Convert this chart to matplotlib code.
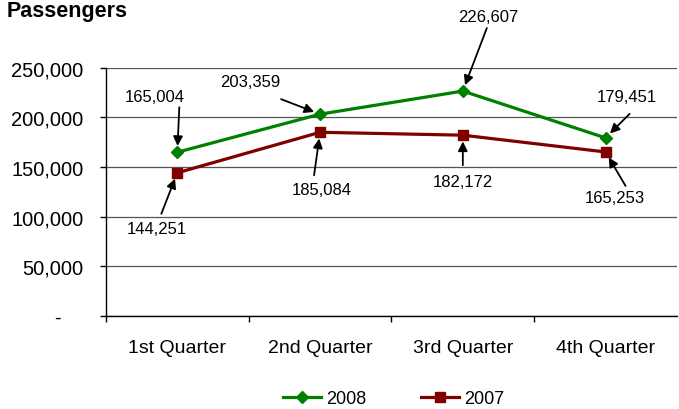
import matplotlib.pyplot as plt
from matplotlib.ticker import FuncFormatter

plt.rcParams['font.family'] = ['Liberation Sans', 'DejaVu Sans']

quarters = ["1st Quarter", "2nd Quarter", "3rd Quarter", "4th Quarter"]
pax_2008 = [165004, 203359, 226607, 179451]
pax_2007 = [144251, 185084, 182172, 165253]

# label and arrow-tail offsets in pixels (dx, dy) from each point
lbl_2008 = [(-23, 56), (-70, 33), (25, 75), (21, 41)]
tail_2008 = [(2, 45), (-39, 15), (24, 63), (24, 24)]
lbl_2007 = [(-20, -56), (2, -57), (0, -46), (9, -46)]
tail_2007 = [(-16, -41), (-6, -43), (0, -30), (20, -34)]

fig = plt.figure(figsize=(6.79, 4.10), dpi=100)
ax = fig.add_axes([0.156, 0.227, 0.841, 0.605])

x = [i + 0.5 for i in range(len(quarters))]
ax.plot(x, pax_2008, color="#008000", lw=2.3, marker="D", ms=6.5, label="2008")
ax.plot(x, pax_2007, color="#800000", lw=2.3, marker="s", ms=7.5, label="2007")

for ys, lbls, tails in [(pax_2008, lbl_2008, tail_2008), (pax_2007, lbl_2007, tail_2007)]:
    for xi, yi, (lx, ly), (tx, ty) in zip(x, ys, lbls, tails):
        ax.annotate(f"{yi:,}", xy=(xi, yi), xytext=(lx, ly),
                    textcoords="offset pixels", ha="center", va="center",
                    fontsize=12)
        ax.annotate("", xy=(xi, yi), xytext=(tx, ty), textcoords="offset pixels",
                    arrowprops=dict(arrowstyle="-|>", color="black", lw=1.3,
                                    shrinkA=0, shrinkB=4.5, mutation_scale=14))

ax.set_xlim(0, 4)
ax.set_ylim(0, 250000)
ax.set_yticks(range(0, 250001, 50000))
# accounting style: zero shown as a dash, set in from the right
ax.yaxis.set_major_formatter(FuncFormatter(lambda v, p: "-    " if v == 0 else f"{int(v):,}"))
ax.set_xticks(x)
ax.set_xticklabels(quarters)
ax.set_xticks([0, 1, 2, 3], minor=True)
ax.tick_params(axis="x", which="major", length=0, pad=16.5, labelsize=14)
ax.tick_params(axis="x", which="minor", direction="out", length=4.5, width=1)
ax.tick_params(axis="y", direction="out", length=4.5, width=1, labelsize=14.5, pad=11.5)
ax.grid(axis="y", color="#555555", lw=0.9)
ax.set_axisbelow(True)
for s in ["top", "right"]:
    ax.spines[s].set_visible(False)
ax.spines["left"].set_linewidth(1.0)
ax.spines["bottom"].set_linewidth(1.0)

fig.text(0.01, 1 - 16.5 / 410, "Passengers", fontsize=15.5, fontweight="bold",
         va="baseline", ha="left")
fig.legend(loc="lower center", ncol=2, frameon=False, fontsize=13,
           bbox_to_anchor=(0.58, -0.035), handlelength=2.1, handletextpad=0.3,
           columnspacing=3.0)

fig.savefig("out.png", dpi=100)
